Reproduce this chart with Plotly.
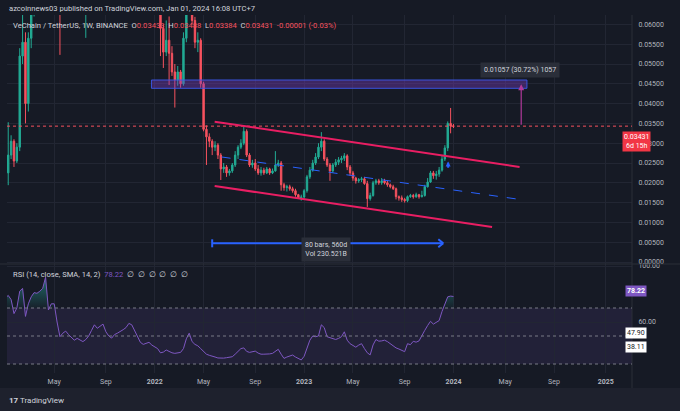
import pandas as pd
import plotly.graph_objects as go

# VeChain / TetherUS weekly candles (Binance)
week_start = "2021-01-04"
first_open = 0.0185

close = [
    0.0225, 0.0270, 0.0305, 0.0255, 0.0290, 0.0520, 0.0555, 0.0400, 0.0565, 0.0650,  # 2021 Jan-Mar
    0.0700, 0.0680, 0.0950, 0.1150, 0.2000, 0.1500, 0.1700, 0.1800, 0.1300, 0.0950,
    0.1100, 0.1100, 0.1050, 0.0950, 0.0850, 0.0850, 0.0800, 0.0700, 0.0800, 0.0900,
    0.0950, 0.1200, 0.1150, 0.1200, 0.1250, 0.1050, 0.1150, 0.0950, 0.1000, 0.1100,
    0.1150, 0.1200, 0.1200, 0.1400, 0.1450, 0.1250, 0.1100, 0.0950, 0.0880, 0.0850,
    0.0950, 0.0870, 0.0720, 0.0690, 0.0590, 0.0530, 0.0560, 0.0527, 0.0480, 0.0460,  # 2022
    0.0480, 0.0450, 0.0565, 0.0660, 0.0700, 0.0610, 0.0555, 0.0560, 0.0450, 0.0335,
    0.0316, 0.0305, 0.0290, 0.0295, 0.0270, 0.0235, 0.0240, 0.0225, 0.0230, 0.0245,
    0.0270, 0.0290, 0.0300, 0.0330, 0.0270, 0.0245, 0.0250, 0.0235, 0.0225, 0.0232,
    0.0225, 0.0235, 0.0225, 0.0230, 0.0245, 0.0250, 0.0195, 0.0188, 0.0190, 0.0185,
    0.0180, 0.0170, 0.0162, 0.0164, 0.0180, 0.0215, 0.0232, 0.0250, 0.0265, 0.0290,  # 2023
    0.0305, 0.0260, 0.0245, 0.0230, 0.0245, 0.0252, 0.0258, 0.0262, 0.0268, 0.0240,
    0.0225, 0.0212, 0.0205, 0.0208, 0.0210, 0.0198, 0.0160, 0.0168, 0.0200, 0.0205,
    0.0200, 0.0205, 0.0200, 0.0195, 0.0190, 0.0185, 0.0165, 0.0162, 0.0158, 0.0155,
    0.0165, 0.0168, 0.0165, 0.0170, 0.0165, 0.0168, 0.0190, 0.0202, 0.0225, 0.0218,
    0.0222, 0.0232, 0.0260, 0.0288, 0.0350, 0.03433, 0.03431,
]
high = [
    0.0240, 0.0353, 0.0320, 0.0310, 0.0300, 0.0540, 0.0640, 0.0580, 0.0580, 0.0680,
    0.0780, 0.0760, 0.1000, 0.1350, 0.2050, 0.2800, 0.1800, 0.2050, 0.1900, 0.1500,
    0.1250, 0.1350, 0.1200, 0.1150, 0.1000, 0.0950, 0.0900, 0.0830, 0.0820, 0.0950,
    0.1000, 0.1300, 0.1300, 0.1350, 0.1500, 0.1300, 0.1200, 0.1150, 0.1050, 0.1150,
    0.1250, 0.1300, 0.1350, 0.1450, 0.1580, 0.1450, 0.1300, 0.1150, 0.1000, 0.0950,
    0.1000, 0.1000, 0.0900, 0.0790, 0.0710, 0.0600, 0.0610, 0.0620, 0.0545, 0.0500,
    0.0495, 0.0485, 0.0580, 0.0680, 0.0760, 0.0710, 0.0619, 0.0580, 0.0565, 0.0455,
    0.0345, 0.0325, 0.0310, 0.0305, 0.0300, 0.0275, 0.0250, 0.0245, 0.0235, 0.0250,
    0.0280, 0.0295, 0.0310, 0.0341, 0.0335, 0.0275, 0.0258, 0.0260, 0.0245, 0.0240,
    0.0238, 0.0240, 0.0238, 0.0236, 0.0280, 0.0258, 0.0255, 0.0200, 0.0195, 0.0195,
    0.0190, 0.0185, 0.0172, 0.0170, 0.0184, 0.0220, 0.0240, 0.0258, 0.0275, 0.0300,
    0.0328, 0.0310, 0.0265, 0.0250, 0.0250, 0.0260, 0.0265, 0.0268, 0.0275, 0.0272,
    0.0245, 0.0230, 0.0215, 0.0212, 0.0215, 0.0215, 0.0205, 0.0175, 0.0205, 0.0210,
    0.0210, 0.0212, 0.0210, 0.0205, 0.0198, 0.0195, 0.0188, 0.0168, 0.0168, 0.0162,
    0.0168, 0.0172, 0.0172, 0.0175, 0.0172, 0.0180, 0.0195, 0.0212, 0.0230, 0.0230,
    0.0230, 0.0240, 0.0268, 0.0295, 0.0355, 0.0389, 0.03488,
]
low = [
    0.0170, 0.0194, 0.0260, 0.0240, 0.0250, 0.0280, 0.0500, 0.0350, 0.0380, 0.0540,
    0.0620, 0.0640, 0.0670, 0.0920, 0.1100, 0.1300, 0.1400, 0.1600, 0.1100, 0.0523,
    0.0850, 0.1000, 0.0900, 0.0850, 0.0700, 0.0750, 0.0750, 0.0650, 0.0566, 0.0780,
    0.0850, 0.0950, 0.1050, 0.1100, 0.1150, 0.0900, 0.1000, 0.0900, 0.0900, 0.0950,
    0.1050, 0.1050, 0.1100, 0.1150, 0.1300, 0.1150, 0.1050, 0.0800, 0.0800, 0.0780,
    0.0850, 0.0850, 0.0700, 0.0670, 0.0520, 0.0490, 0.0520, 0.0447, 0.0470, 0.0390,
    0.0445, 0.0440, 0.0445, 0.0555, 0.0640, 0.0600, 0.0540, 0.0530, 0.0440, 0.0330,
    0.0245, 0.0290, 0.0270, 0.0280, 0.0260, 0.0207, 0.0225, 0.0215, 0.0218, 0.0225,
    0.0240, 0.0260, 0.0285, 0.0295, 0.0265, 0.0240, 0.0238, 0.0230, 0.0220, 0.0218,
    0.0220, 0.0222, 0.0220, 0.0222, 0.0228, 0.0240, 0.0180, 0.0180, 0.0178, 0.0180,
    0.0175, 0.0165, 0.0160, 0.0155, 0.0160, 0.0175, 0.0210, 0.0228, 0.0245, 0.0260,
    0.0280, 0.0255, 0.0240, 0.0205, 0.0225, 0.0240, 0.0245, 0.0250, 0.0255, 0.0232,
    0.0218, 0.0205, 0.0198, 0.0200, 0.0202, 0.0195, 0.0139, 0.0155, 0.0165, 0.0195,
    0.0195, 0.0195, 0.0196, 0.0190, 0.0186, 0.0182, 0.0158, 0.0155, 0.0152, 0.0150,
    0.0151, 0.0162, 0.0160, 0.0162, 0.0160, 0.0163, 0.0165, 0.0188, 0.0200, 0.0210,
    0.0208, 0.0215, 0.0228, 0.0255, 0.0280, 0.0325, 0.03384,
]
rsi = [
    77, 79, 76, 66, 70, 82, 84, 64, 73, 78,
    81, 80.5, 82, 84, 92, 68.6, 73, 73, 60, 49.5,
    52, 53.5, 51, 49, 47, 48.3, 47, 46, 47.5, 50,
    54, 58, 55.5, 57, 58.5, 53, 50, 48.5, 51, 52,
    53, 54.5, 56, 59, 58, 53.5, 49, 45.5, 44, 45,
    45.5, 43.5, 42.5, 41, 38, 38.5, 40, 39, 38, 37.6,
    37.8, 38.3, 41, 48, 52, 46, 44, 43, 41, 39.3,
    37, 36.2, 35.8, 35, 34.3, 34, 34.2, 34.5, 34.8, 35.2,
    37, 38.8, 41, 41.5, 39, 38.3, 38.8, 39.2, 37.8, 37,
    37, 37, 37.2, 37.6, 39, 40.5, 37, 34, 35, 35.8,
    36.4, 35, 33.8, 32.9, 35.5, 42, 47, 50, 49.5, 50,
    58, 56, 49.5, 48.8, 48, 47.5, 48.3, 49.5, 53, 47,
    44.5, 43, 42, 43.5, 44.5, 41, 38, 36.5, 43.6, 47.5,
    46.3, 46.5, 47, 46, 44.5, 42.6, 41.5, 40.7, 39.8, 38.8,
    44.5, 43.8, 46.2, 45.6, 46.5, 49.8, 54, 57.5, 60.5, 58.5,
    59.5, 61, 67.5, 73, 78, 78.5, 78.22,
]

tick_dates = ["2021-05-03", "2021-09-06", "2022-01-03", "2022-05-02", "2022-09-05",
              "2023-01-02", "2023-05-01", "2023-09-04", "2024-01-01", "2024-05-06",
              "2024-09-02", "2025-01-06"]
tick_text = ["May", "Sep", "<b>2022</b>", "May", "Sep", "<b>2023</b>", "May", "Sep",
             "<b>2024</b>", "May", "Sep", "<b>2025</b>"]
price_ticks = [0.005 * k for k in range(13)]

dates = pd.date_range(week_start, periods=len(close), freq="7D")
opens = [first_open] + close[:-1]
rsi_top = [max(v, 70) for v in rsi]

BG = "#161a25"
GRID = "#222633"
TXT = "#b2b5be"
UP = "#22ab94"
DOWN = "#f7525f"
PURPLE = "#7e57c2"
BLUE = "#2962ff"
PINK = "#e91e63"
FONT = "Roboto"
W, H = 680, 411


def py(px):
    return 1 - px / H


fig = go.Figure()
fig.add_trace(go.Candlestick(
    x=dates, open=opens, high=high, low=low, close=close,
    increasing=dict(line=dict(color=UP, width=1), fillcolor=UP),
    decreasing=dict(line=dict(color=DOWN, width=1), fillcolor=DOWN),
    whiskerwidth=0, xaxis="x", yaxis="y", hoverinfo="skip", showlegend=False))

# RSI overbought fill + line
fig.add_trace(go.Scatter(x=dates, y=[70] * len(rsi), mode="lines", line=dict(width=0),
                         xaxis="x2", yaxis="y2", hoverinfo="skip", showlegend=False))
fig.add_trace(go.Scatter(x=dates, y=rsi_top, mode="lines", line=dict(width=0), fill="tonexty",
                         fillgradient=dict(type="vertical",
                                           colorscale=[[0, "rgba(38,166,154,0.05)"],
                                                       [1, "rgba(38,166,154,0.6)"]]),
                         xaxis="x2", yaxis="y2", hoverinfo="skip", showlegend=False))
fig.add_trace(go.Scatter(x=dates, y=rsi, mode="lines", line=dict(color=PURPLE, width=1),
                         xaxis="x2", yaxis="y2", hoverinfo="skip", showlegend=False))

xdom = [7 / W, 632 / W]
xrange = ["2021-01-08", "2025-03-11"]
p_lo, p_hi = (262 - 264) / 3960, (262 - 15) / 3960

fig.update_layout(
    width=W, height=H, autosize=False, margin=dict(l=0, r=0, t=0, b=0, autoexpand=False),
    paper_bgcolor=BG, plot_bgcolor=BG, showlegend=False, boxgap=0.3,
    font=dict(family=FONT, size=7, color=TXT),
    xaxis=dict(domain=xdom, range=xrange, type="date", anchor="y", showticklabels=False,
               tickvals=tick_dates, showgrid=True, gridcolor=GRID, zeroline=False,
               rangeslider=dict(visible=False), fixedrange=True),
    xaxis2=dict(domain=xdom, range=xrange, type="date", anchor="y2", matches="x",
                tickvals=tick_dates, ticktext=tick_text, showgrid=True, gridcolor=GRID,
                ticks="outside", ticklen=2, tickcolor=BG, tickfont=dict(size=7, color=TXT),
                zeroline=False),
    yaxis=dict(domain=[py(264), py(15)], range=[p_lo, p_hi], side="right", anchor="x",
               tickvals=price_ticks, tickformat=".5f", gridcolor=GRID, zeroline=False,
               ticks="outside", ticklen=4, tickcolor=BG, tickfont=dict(size=7, color=TXT)),
    yaxis2=dict(domain=[py(373), py(264)], range=[23.571, 101.43], side="right", anchor="x2",
                tickvals=[100, 60], ticktext=["100.00", "60.00"], gridcolor=GRID,
                zeroline=False, ticks="outside", ticklen=4, tickcolor=BG,
                tickfont=dict(size=7, color=TXT)),
)

shapes = []
# footer strip and pane separators
shapes.append(dict(type="rect", xref="paper", yref="paper", x0=0, x1=1, y0=0, y1=py(388),
                   fillcolor="#1e212d", line=dict(width=0), layer="below"))
shapes.append(dict(type="line", xref="paper", yref="paper", x0=0, x1=1, y0=py(264), y1=py(264),
                   line=dict(color="#2a2e39", width=1)))
shapes.append(dict(type="line", xref="paper", yref="paper", x0=632 / W, x1=632 / W,
                   y0=py(388), y1=py(15), line=dict(color="#2a2e39", width=1)))
# RSI band and levels
shapes.append(dict(type="rect", xref="x2 domain", yref="y2", x0=0, x1=1, y0=30, y1=70,
                   fillcolor="rgba(126,87,194,0.12)", line=dict(width=0), layer="below"))
for lvl in (70, 50, 30):
    shapes.append(dict(type="line", xref="x2 domain", yref="y2", x0=0, x1=1, y0=lvl, y1=lvl,
                       line=dict(color="#787b86", width=1, dash="3px,3px")))
# last price line
shapes.append(dict(type="line", xref="x domain", yref="y", x0=0, x1=1, y0=0.03431, y1=0.03431,
                   line=dict(color=DOWN, width=1, dash="dot")))
# supply zone box
shapes.append(dict(type="rect", xref="x", yref="y", x0="2021-12-26", x1="2024-06-28",
                   y0=0.04386, y1=0.04596, fillcolor="rgba(120,60,190,0.40)",
                   line=dict(color="rgba(60,90,240,0.9)", width=1)))
# descending channel
shapes.append(dict(type="line", xref="x", yref="y", x0="2022-05-29", y0=0.03543,
                   x1="2024-06-10", y1=0.02399, line=dict(color=PINK, width=2)))
shapes.append(dict(type="line", xref="x", yref="y", x0="2022-05-29", y0=0.01919,
                   x1="2024-04-04", y1=0.00884, line=dict(color=PINK, width=2)))
shapes.append(dict(type="line", xref="x", yref="y", x0="2022-06-15", y0=0.02652,
                   x1="2024-06-03", y1=0.01591, line=dict(color=BLUE, width=1, dash="dash")))
# date range arrow
shapes.append(dict(type="line", xref="x", yref="y", x0="2022-05-23", y0=0.00472,
                   x1="2023-12-07", y1=0.00472, line=dict(color=BLUE, width=2)))
shapes.append(dict(type="line", xref="x", yref="y", x0="2022-05-23", y0=0.00371,
                   x1="2022-05-23", y1=0.00573, line=dict(color=BLUE, width=2)))
for yy in (0.00371, 0.00573):
    shapes.append(dict(type="line", xref="x", yref="y", x0="2023-11-25", y0=yy,
                       x1="2023-12-07", y1=0.00472, line=dict(color=BLUE, width=2)))
fig.update_layout(shapes=shapes)

ann = []
ann.append(dict(xref="paper", yref="paper", x=7 / W, y=py(9), xanchor="left", yanchor="middle",
                showarrow=False, text="azcoinnews03 published on TradingView.com, Jan 01, 2024 16:08 UTC+7",
                font=dict(size=7.6, color="#d1d4dc")))
red = lambda s: "<span style='color:%s'>%s</span>" % (DOWN, s)
legend = ("VeChain / TetherUS, 1W, BINANCE  O" + red("0.03433") + "  H" + red("0.03488")
          + "  L" + red("0.03384") + "  C" + red("0.03431") + "  " + red("-0.00001 (-0.03%)"))
ann.append(dict(xref="paper", yref="paper", x=11 / W, y=py(25), xanchor="left", yanchor="middle",
                showarrow=False, text=legend, font=dict(size=7.6, color="#d1d4dc")))
ann.append(dict(xref="paper", yref="paper", x=11 / W, y=py(274), xanchor="left", yanchor="middle",
                showarrow=False,
                text="RSI (14, close, SMA, 14, 2)  <span style='color:%s'>78.22</span>  ∅  ∅  ∅  ∅  ∅  ∅" % PURPLE,
                font=dict(size=7.6, color="#d1d4dc")))
# price range measure
ann.append(dict(xref="x", yref="y", x="2024-06-14", y=0.04488, ax="2024-06-14", ay=0.03431,
                axref="x", ayref="y", showarrow=True, arrowhead=2, arrowsize=1, arrowwidth=1.2,
                arrowcolor="#b0399a", text=""))
ann.append(dict(xref="x", yref="y", x="2024-06-10", y=0.04848, showarrow=False,
                text="0.01057 (30.72%) 1057", bgcolor="#2a2e39", borderpad=3,
                font=dict(size=7, color="#d1d4dc")))
# date range label
ann.append(dict(xref="x", yref="y", x="2023-02-24", y=0.00316, showarrow=False,
                text="80 bars, 560d<br>Vol 230.521B", bgcolor="#2a2e39", borderpad=3,
                font=dict(size=7, color="#d1d4dc")))
# breakout arrow
ann.append(dict(xref="x", yref="y", x="2023-12-19", y=0.0254, ax="2023-12-19", ay=0.0234,
                axref="x", ayref="y", showarrow=True, arrowhead=2, arrowsize=0.5, arrowwidth=2,
                arrowcolor=BLUE, text=""))
# axis price labels
ann.append(dict(xref="paper", yref="paper", x=650.5 / W, y=py(131), showarrow=False,
                text="0.03431<br>6d 15h", bgcolor="#f23645", borderpad=1,
                font=dict(size=7, color="white")))
ann.append(dict(xref="paper", yref="paper", x=646.5 / W, y=py(296.5), showarrow=False,
                text="<b>78.22</b>", bgcolor=PURPLE, borderpad=1, font=dict(size=7, color="white")))
for val, ypx in (("47.90", 339), ("38.11", 353)):
    ann.append(dict(xref="paper", yref="paper", x=646.5 / W, y=py(ypx), showarrow=False,
                    text=val, bgcolor="white", borderpad=1, font=dict(size=7, color="#131722")))
# footer logo
ann.append(dict(xref="paper", yref="paper", x=7 / W, y=py(400), xanchor="left", yanchor="middle",
                showarrow=False, text="<b>17</b> TradingView", font=dict(size=8, color="#d1d4dc")))
fig.update_layout(annotations=ann)

fig.write_html("out.html", config={"displayModeBar": False},
               post_script="document.body.style.margin='0px';"
                           "document.body.style.background='%s';" % BG)
